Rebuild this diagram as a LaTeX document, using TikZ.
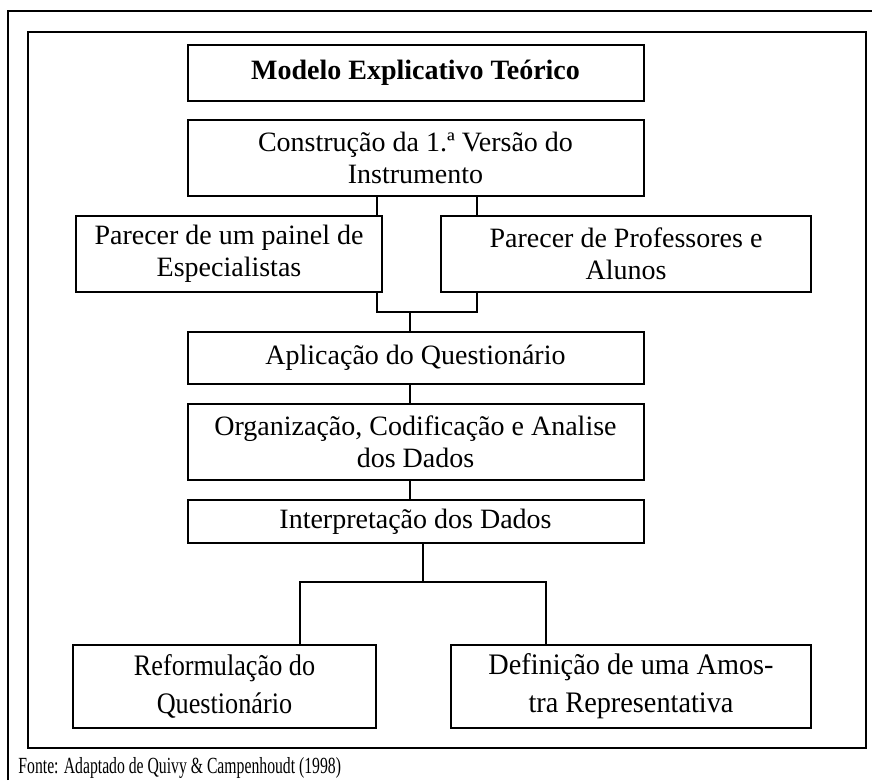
\documentclass[tikz,border=0pt]{standalone}
\usepackage{fontspec}
\setmainfont{Liberation Serif}
\begin{document}
\begin{tikzpicture}[x=0.45pt,y=-0.45pt,
  box/.style={draw, line width=0.9pt, align=center, inner sep=0pt,
    font=\fontsize{12.6}{14.5}\selectfont},
  lowbox/.style={box, font=\fontsize{13.4}{17.2}\selectfont},
  frame/.style={line width=0.9pt},
  link/.style={line width=0.9pt}]
\useasboundingbox (0,0) rectangle (872,780);
% frames
\draw[frame] (8,780) -- (8,11) -- (872,11);
\draw[frame] (28,32) rectangle (866,748);
% boxes
\node[box, minimum width=205.2pt, minimum height=25.2pt] (b1) at (415.5,72.5) {\textbf{Modelo Explicativo Teórico}};
\node[box, minimum width=205.2pt, minimum height=34.2pt] (b2) at (415.5,158) {Construção da 1.ª Versão do\\Instrumento};
\node[box, minimum width=137.7pt, minimum height=34.2pt] (b3) at (229,254) {\raisebox{-1pt}{\shortstack{Parecer de um painel de\\Especialistas}}};
\node[box, minimum width=166.5pt, minimum height=34.2pt] (b4) at (626,254) {Parecer de Professores e\\Alunos};
\node[box, minimum width=205.2pt, minimum height=23.4pt] (b5) at (415.5,357.5) {Aplicação do Questionário};
\node[box, minimum width=205.2pt, minimum height=34.2pt] (b6) at (415.5,442) {Organização, Codificação e Analise\\dos Dados};
\node[box, minimum width=205.2pt, minimum height=19.35pt] (b7) at (415.5,521.5) {Interpretação dos Dados};
\node[lowbox, minimum width=136.35pt, minimum height=37.35pt] (b8) at (224.5,686.5) {\scalebox{0.88}[1]{Reformulação do}\\\scalebox{0.88}[1]{Questionário}};
\node[lowbox, minimum width=162pt, minimum height=37.35pt] (b9) at (631,686.5) {\scalebox{0.95}[1]{Definição de uma Amos-}\\\scalebox{0.95}[1]{tra Representativa}};
% connectors
\coordinate (j1) at (377,312);
\coordinate (j2) at (477,312);
\coordinate (j3) at (300,582);
\coordinate (j4) at (546,582);
\draw[link] (b2.south -| j1) -- (b3.north -| j1);
\draw[link] (b2.south -| j2) -- (b4.north -| j2);
\draw[link] (b3.south -| j1) -- (j1) -- (j2) -- (b4.south -| j2);
\draw[link] (410,312) -- (b5.north -| 410,0);
\draw[link] (b5.south -| 410,0) -- (b6.north -| 410,0);
\draw[link] (b6.south -| 410,0) -- (b7.north -| 410,0);
\draw[link] (b7.south -| 423,0) -- (423,582);
\draw[link] (b8.north -| j3) -- (j3) -- (j4) -- (b9.north -| j4);
% source
\node[anchor=base west, inner sep=0pt, font=\fontsize{10.4}{12}\selectfont] (src) at (18,773) {\scalebox{0.68}[1]{Fonte: Adaptado de Quivy \& Campenhoudt (1998)}};
\end{tikzpicture}
\end{document}
